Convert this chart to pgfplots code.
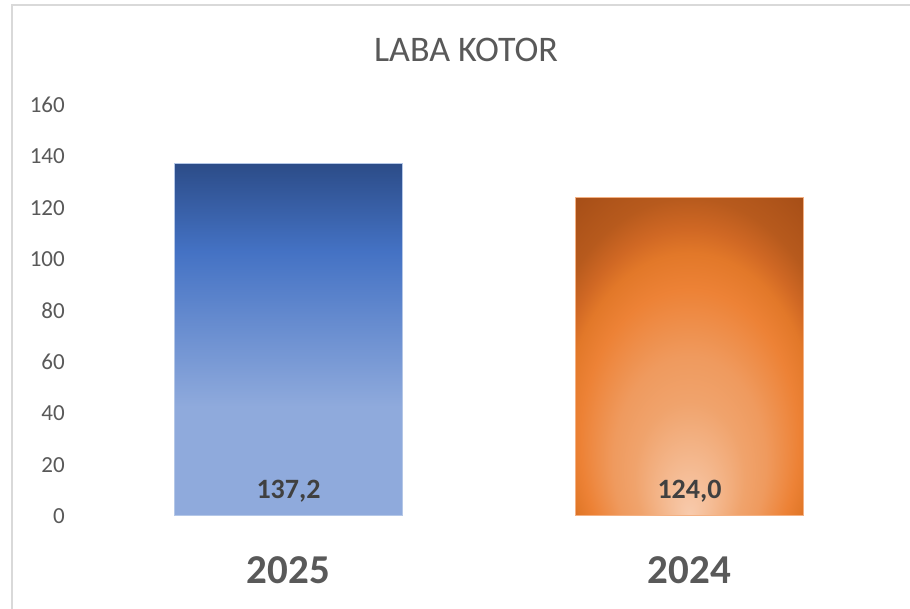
\documentclass[border=0pt]{standalone}
\usepackage{pgfplots}
\pgfplotsset{compat=1.18}
\usepackage{pgfplotstable}
\usepackage{fontspec}
\setmainfont{Carlito}

\definecolor{txt}{HTML}{595959}
\definecolor{lbl}{HTML}{404040}
\definecolor{frame}{HTML}{D9D9D9}
\definecolor{bluelight}{HTML}{8FAADC}
\definecolor{bluemid}{HTML}{4472C4}
\definecolor{bluedark}{HTML}{2C4C88}
\definecolor{blueedge}{HTML}{B4C7E7}
\definecolor{orangeedge}{HTML}{F4B183}
\definecolor{o0}{HTML}{F8CBAD}
\definecolor{o1}{HTML}{F5BE98}
\definecolor{o2}{HTML}{F0A36C}
\definecolor{o3}{HTML}{EF9A5E}
\definecolor{o4}{HTML}{ED8236}
\definecolor{o5}{HTML}{E27829}
\definecolor{o6}{HTML}{D06824}
\definecolor{o7}{HTML}{B75A1D}
\definecolor{o8}{HTML}{A64E17}

% blue bar: dark at the top, flat light in the lower third
\pgfdeclareverticalshading{blueshade}{100bp}{color(0bp)=(bluelight); color(40.5bp)=(bluelight);
  color(62.5bp)=(bluemid); color(75bp)=(bluedark); color(100bp)=(bluedark)}
% orange bar: light spot at the bottom centre
\pgfdeclareradialshading{orangeshade}{\pgfpoint{0bp}{-25bp}}{color(0bp)=(o0); color(4bp)=(o1);
  color(12bp)=(o2); color(16.7bp)=(o3); color(23.7bp)=(o4); color(27.5bp)=(o5);
  color(30bp)=(o6); color(33.3bp)=(o7); color(39.3bp)=(o8); color(50bp)=(o8)}

\pgfplotstableread{
x y
0 137.2
}\tblA
\pgfplotstableread{
x y
1 124.0
}\tblB
\pgfplotstableread{
x y
0 137.2
1 124.0
}\tblAll

\begin{document}
\begin{tikzpicture}
\useasboundingbox (0pt,0pt) rectangle (910pt,609pt);
\draw[frame, line width=2pt] (12pt,0pt) -- (12pt,604pt) -- (910pt,604pt);
\node[anchor=base, text=txt, font=\fontsize{36}{36}\selectfont] at (466pt,547pt) {LABA KOTOR};
\begin{axis}[
    at={(88pt,93pt)}, anchor=south west,
    scale only axis,
    width=802pt, height=411pt,
    xmin=-0.5, xmax=1.5,
    ymin=0, ymax=160,
    xtick={0,1}, xticklabels={2025,2024},
    ytick={0,20,...,160},
    axis line style={draw=none},
    major tick length=0pt,
    tick label style={text=txt},
    yticklabel style={font=\fontsize{23}{23}\selectfont, inner sep=0pt, anchor=east, xshift=-23pt},
    xticklabel style={font=\fontsize{41}{41}\selectfont\bfseries, inner sep=0pt, anchor=base, yshift=-68pt},
    /pgf/number format/assume math mode=true,
    clip=false,
]
\addplot[ybar, bar width=0.571, bar shift=0pt, draw=blueedge, line width=1pt,
    shade, shading=blueshade] table[x=x, y=y] {\tblA};
\addplot[ybar, bar width=0.571, bar shift=0pt, draw=orangeedge, line width=1pt,
    shade, shading=orangeshade] table[x=x, y=y] {\tblB};
% value labels sit at the foot of each bar
\addplot[draw=none, mark=none, point meta=explicit,
    nodes near coords={\pgfmathprintnumber[fixed, fixed zerofill, precision=1, use comma]{\pgfplotspointmeta}},
    nodes near coords style={anchor=base, inner sep=0pt, yshift=17pt, text=lbl,
      font=\fontsize{28}{28}\selectfont\bfseries}]
    table[x=x, y expr=0, meta=y] {\tblAll};
\end{axis}
\end{tikzpicture}
\end{document}
